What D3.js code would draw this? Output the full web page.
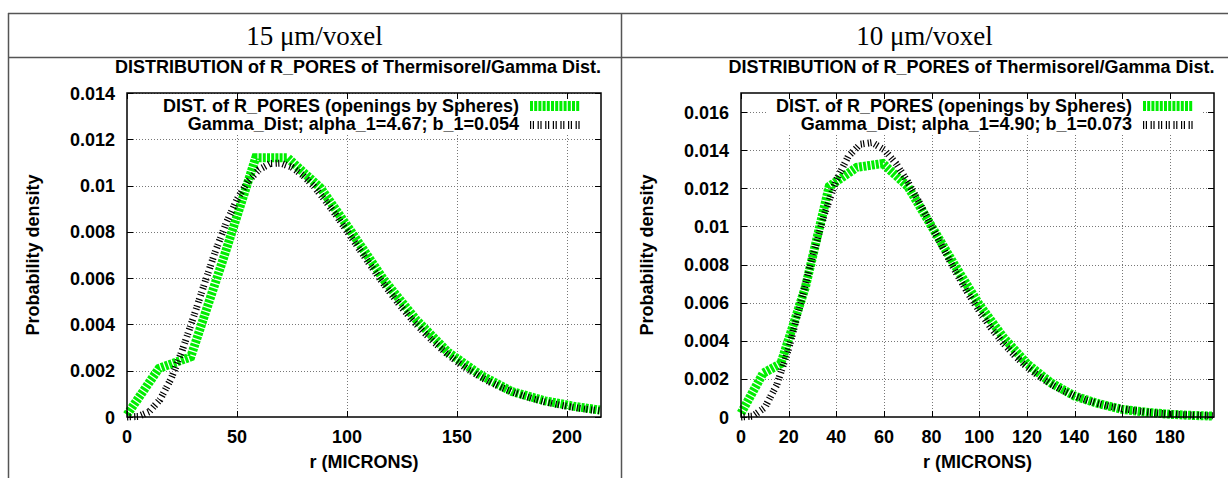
<!DOCTYPE html>
<html><head><meta charset="utf-8">
<script src="https://cdn.jsdelivr.net/npm/d3@7"></script>
<style>
body{margin:0;background:#fff}
svg{display:block}
text.sans{font-family:"Liberation Sans",Arial,Helvetica,sans-serif;font-weight:bold;fill:#000}
text.serif{font-family:"Liberation Serif","Times New Roman",serif;fill:#000}
</style>
</head><body>
<svg id="c" width="1228" height="478"></svg>
<script>
// ---------- texts ----------
const headers = ["15 \u03bcm/voxel", "10 \u03bcm/voxel"];
const plotTitle = "DISTRIBUTION of R_PORES of Thermisorel/Gamma Dist.";
const xLabel = "r (MICRONS)";
const yLabel = "Probability density";
const dataLegend = "DIST. of R_PORES (openings by Spheres)";
const gammaLegends = ["Gamma_Dist; alpha_1=4.67; b_1=0.054", "Gamma_Dist; alpha_1=4.90; b_1=0.073"];

// ---------- left panel (15 um/voxel) ----------
const leftDataR = [0, 14.5, 29, 44, 58.5, 73, 88, 102, 117, 131.5, 146, 161, 175, 190, 204, 215];
const leftDataP = [0.0001, 0.0021, 0.0026, 0.0069, 0.0112, 0.0112, 0.0099, 0.0080, 0.0059, 0.0042, 0.0028, 0.0018, 0.0011, 0.0007, 0.00045, 0.0003];
const leftGammaR = [0,5,10,15,20,25,30,35,40,45,50,55,60,65,70,75,80,85,90,95,100,105,110,115,120,125,130,135,140,145,150,155,160,165,170,175,180,185,190,195,200,205,210,215];
const leftGammaP = [0,0.0000228,0.000222,0.000749,0.001645,0.002846,0.004245,0.00570,0.00711,0.00836,0.00940,0.01018,0.01069,0.01095,0.01097,0.01079,0.01044,0.00996,0.00937,0.00873,0.00804,0.00734,0.00665,0.00597,0.00533,0.00472,0.00416,0.00366,0.00319,0.00277,0.00239,0.00206,0.00177,0.00151,0.00129,0.00109,0.000925,0.00078,0.000657,0.000552,0.000462,0.000386,0.000322,0.000268];
const leftXTicks = [0, 50, 100, 150, 200];
const leftYTicks = [0, 0.002, 0.004, 0.006, 0.008, 0.01, 0.012, 0.014];
const leftYTickLabels = ["0", "0.002", "0.004", "0.006", "0.008", "0.01", "0.012", "0.014"];
const leftXMax = 215.5, leftYMax = 0.014;

// ---------- right panel (10 um/voxel) ----------
const rightDataR = [0, 9.3, 16.7, 27, 37, 48.6, 59.5, 70, 80, 90, 100, 110, 120, 130, 140, 150, 160, 170, 180, 190, 198];
const rightDataP = [0.0002, 0.0023, 0.0028, 0.0068, 0.0121, 0.0131, 0.0133, 0.0121, 0.0100, 0.0079, 0.0059, 0.0042, 0.0028, 0.0018, 0.0011, 0.0007, 0.0004, 0.00025, 0.00014, 0.00008, 0.00005];
const rightGammaR = [0,5,10,15,20,25,30,35,40,45,50,55,60,65,70,75,80,85,90,95,100,105,110,115,120,125,130,135,140,145,150,155,160,165,170,175,180,185,190,195,198];
const rightGammaP = [0,0.0000481,0.000498,0.00168,0.00359,0.00595,0.00840,0.01064,0.01244,0.01367,0.01431,0.01440,0.01403,0.01331,0.01234,0.01121,0.01001,0.00881,0.00764,0.00655,0.00556,0.00466,0.00388,0.00320,0.00262,0.00214,0.00173,0.00139,0.00111,0.000885,0.000701,0.000553,0.000435,0.000340,0.000266,0.000206,0.000160,0.000124,0.000095,0.000073,0.000063];
const rightXTicks = [0, 20, 40, 60, 80, 100, 120, 140, 160, 180];
const rightYTicks = [0, 0.002, 0.004, 0.006, 0.008, 0.01, 0.012, 0.014, 0.016];
const rightYTickLabels = ["0", "0.002", "0.004", "0.006", "0.008", "0.01", "0.012", "0.014", "0.016"];
const rightXMax = 198.5, rightYMax = 0.017;

const FS = "18px";
const svg = d3.select("#c");

// table frame
const frame = svg.append("g").attr("stroke", "#555").attr("stroke-width", 1.5);
frame.append("line").attr("x1", 8).attr("x2", 1228).attr("y1", 13.5).attr("y2", 13.5);
frame.append("line").attr("x1", 8).attr("x2", 1228).attr("y1", 57.5).attr("y2", 57.5);
frame.append("line").attr("x1", 8.5).attr("x2", 8.5).attr("y1", 13).attr("y2", 478);
frame.append("line").attr("x1", 621.5).attr("x2", 621.5).attr("y1", 13).attr("y2", 478);

const cells = [[8, 621], [621, 1228]];
headers.forEach((h, i) => {
  svg.append("text").attr("class", "serif")
    .attr("x", (cells[i][0] + cells[i][1]) / 2).attr("y", 45)
    .attr("text-anchor", "middle").style("font-size", "27px").text(h);
});

function panel(cfg) {
  const x = d3.scaleLinear().domain([0, cfg.xMax]).range([cfg.left, cfg.right]);
  const y = d3.scaleLinear().domain([0, cfg.yMax]).range([417, 93]);
  const g = svg.append("g");
  const top = y(cfg.yMax), bot = y(0);

  // grid
  const grid = g.append("g").attr("stroke", "#777").attr("stroke-width", 1).attr("stroke-dasharray", "1,2");
  grid.selectAll(".gx").data(cfg.xTicks.filter(d => d > 0)).enter().append("line")
    .attr("x1", d => Math.round(x(d)) + 0.5).attr("x2", d => Math.round(x(d)) + 0.5)
    .attr("y1", top).attr("y2", bot);
  grid.selectAll(".gy").data(cfg.yTicks.filter(d => d > 0)).enter().append("line")
    .attr("y1", d => Math.round(y(d)) + 0.5).attr("y2", d => Math.round(y(d)) + 0.5)
    .attr("x1", cfg.left).attr("x2", cfg.right);

  // curves
  const line = d3.line().x(d => x(d[0])).y(d => y(d[1]));
  const dataPts = cfg.dataR.map((r, i) => [r, cfg.dataP[i]]);
  const gamPts = cfg.gammaR.map((r, i) => [r, cfg.gammaP[i]]);
  g.append("path").attr("d", line(dataPts)).attr("fill", "none")
    .attr("stroke", "#00ee00").attr("stroke-width", 9).attr("stroke-dasharray", "3,1.2");
  g.append("path").attr("d", line(gamPts)).attr("fill", "none")
    .attr("stroke", "#000").attr("stroke-width", 7).attr("stroke-dasharray", "1.2,1.4,1.2,3.4");

  // legend (opaque key)
  const key = g.append("g");
  const box = key.append("rect").attr("fill", "#fff");
  const textEnd = cfg.right - 82;
  const t1 = key.append("text").attr("class", "sans").attr("x", textEnd).attr("y", 112)
    .attr("text-anchor", "end").style("font-size", FS).text(dataLegend);
  const t2 = key.append("text").attr("class", "sans").attr("x", textEnd).attr("y", 130)
    .attr("text-anchor", "end").style("font-size", FS).text(cfg.gammaLegend);
  const w = Math.max(t1.node().getComputedTextLength(), t2.node().getComputedTextLength());
  box.attr("x", textEnd - w - 8).attr("y", top + 1).attr("width", (cfg.right - 13) - (textEnd - w - 8)).attr("height", 134 - top);
  key.append("line").attr("x1", cfg.right - 71).attr("x2", cfg.right - 21).attr("y1", 106).attr("y2", 106)
    .attr("stroke", "#00ee00").attr("stroke-width", 10).attr("stroke-dasharray", "3,1.2");
  key.append("line").attr("x1", cfg.right - 71).attr("x2", cfg.right - 21).attr("y1", 125).attr("y2", 125)
    .attr("stroke", "#000").attr("stroke-width", 8).attr("stroke-dasharray", "1.2,1.6,1.2,3.6");

  // border
  g.append("rect").attr("x", cfg.left).attr("y", top).attr("width", cfg.right - cfg.left).attr("height", bot - top)
    .attr("fill", "none").attr("stroke", "#000").attr("stroke-width", 1.5);

  // ticks (inward, mirrored)
  const tk = g.append("g").attr("stroke", "#000").attr("stroke-width", 1);
  cfg.xTicks.forEach(d => {
    const xx = Math.round(x(d)) + 0.5;
    tk.append("line").attr("x1", xx).attr("x2", xx).attr("y1", bot).attr("y2", bot - 6);
    tk.append("line").attr("x1", xx).attr("x2", xx).attr("y1", top).attr("y2", top + 6);
  });
  cfg.yTicks.forEach(d => {
    const yy = Math.round(y(d)) + 0.5;
    tk.append("line").attr("y1", yy).attr("y2", yy).attr("x1", cfg.left).attr("x2", cfg.left + 6);
    tk.append("line").attr("y1", yy).attr("y2", yy).attr("x1", cfg.right).attr("x2", cfg.right - 6);
  });

  // tick labels
  g.selectAll(".xl").data(cfg.xTicks).enter().append("text").attr("class", "sans")
    .attr("x", d => x(d)).attr("y", 443).attr("text-anchor", "middle").style("font-size", FS)
    .text(d => String(d));
  g.selectAll(".yl").data(cfg.yTicks).enter().append("text").attr("class", "sans")
    .attr("x", cfg.left - 12).attr("y", d => y(d) + 6.5).attr("text-anchor", "end").style("font-size", FS)
    .text((d, i) => cfg.yTickLabels[i]);

  // axis labels and title
  g.append("text").attr("class", "sans").attr("x", (cfg.left + cfg.right) / 2).attr("y", 468)
    .attr("text-anchor", "middle").style("font-size", FS).text(xLabel);
  g.append("text").attr("class", "sans")
    .attr("transform", `translate(${cfg.ylabX},255) rotate(-90)`)
    .attr("text-anchor", "middle").attr("dominant-baseline", "central").style("font-size", FS).text(yLabel);
  g.append("text").attr("class", "sans").attr("x", (cfg.left + cfg.right) / 2 - 6).attr("y", 73)
    .attr("text-anchor", "middle").style("font-size", FS).text(plotTitle);
}

panel({left: 127, right: 601, xMax: leftXMax, yMax: leftYMax, xTicks: leftXTicks, yTicks: leftYTicks,
  yTickLabels: leftYTickLabels, dataR: leftDataR, dataP: leftDataP, gammaR: leftGammaR, gammaP: leftGammaP,
  gammaLegend: gammaLegends[0], ylabX: 33});
panel({left: 741, right: 1214, xMax: rightXMax, yMax: rightYMax, xTicks: rightXTicks, yTicks: rightYTicks,
  yTickLabels: rightYTickLabels, dataR: rightDataR, dataP: rightDataP, gammaR: rightGammaR, gammaP: rightGammaP,
  gammaLegend: gammaLegends[1], ylabX: 647});
</script>
</body></html>
